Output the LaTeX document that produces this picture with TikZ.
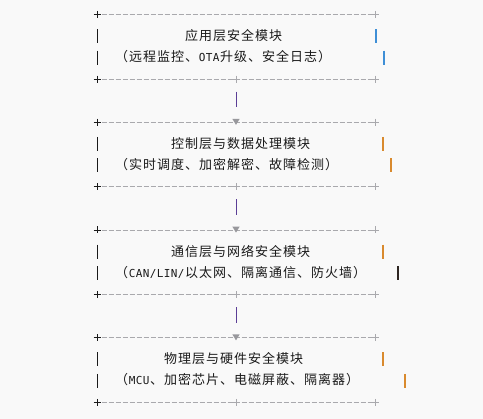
\documentclass[tikz,border=0pt]{standalone}
\usepackage{fontspec}
\setmainfont{Noto Sans CJK SC}
\newfontfamily\monofont{DejaVu Sans Mono}
\usetikzlibrary{calc}
\definecolor{bgc}{HTML}{F9F9F9}
\definecolor{dashc}{HTML}{A9A9AD}
\definecolor{txtc}{HTML}{1A1A1A}
\definecolor{connc}{HTML}{5B3E96}
\definecolor{barblue}{HTML}{3F8FD6}
\definecolor{barorange}{HTML}{D98A2E}
\definecolor{bardark}{HTML}{2E2622}
% fixed-pitch typesetting: CJK 14pt cells, Latin 7pt cells
\newcommand\cjrun[1]{\cjstep#1\relax}
\def\cjstep#1{\ifx#1\relax\else\makebox[14pt]{#1}\expandafter\cjstep\fi}
\newcommand\ltrun[1]{{\monofont\fontsize{11}{13}\selectfont\ltstep#1\relax}}
\def\ltstep#1{\ifx#1\relax\else\makebox[7pt]{#1}\expandafter\ltstep\fi}
\tikzset{
  boxarea/.style={minimum width=278pt,minimum height=64.65pt,inner sep=0pt,outer sep=0pt},
  dashline/.style={draw=dashc,line width=0.9pt,dash pattern=on 5pt off 2pt},
  txt/.style={anchor=base west,inner sep=0pt,text=txtc,font=\fontsize{13}{15}\selectfont},
  conn/.style={draw=connc,line width=1pt},
  lbar/.style={draw=txtc,line width=0.85pt},
  rbar/.style={line width=1.1pt},
  pluspen/.style={line width=0.9pt},
  tri/.style={fill=dashc!90!black}
}
\newcommand\plusat[2]{\draw[pluspen,#1] ($#2+(-3.5,0)$) -- ($#2+(3.5,0)$) ($#2+(0,-3.5)$) -- ($#2+(0,3.5)$);}
\begin{document}
\begin{tikzpicture}[x=1pt,y=-1pt]
\fill[bgc] (0,0) rectangle (483,419);
\useasboundingbox (0,0) rectangle (483,419);
% box areas
\node[boxarea] (b1) at (236,46.825) {};
\node[boxarea] (b2) at (236,154.575) {};
\node[boxarea] (b3) at (236,262.325) {};
\node[boxarea] (b4) at (236,370.075) {};
% borders
\foreach \b in {b1,b2,b3,b4}{
  \draw[dashline] ($(\b.north west)+(4.5,0)$) -- ($(\b.north east)+(-2.5,0)$);
  \draw[dashline] ($(\b.south west)+(4.5,0)$) -- ($(\b.south east)+(-2.5,0)$);
  \plusat{txtc}{(\b.north west)}
  \plusat{txtc}{(\b.south west)}
  \plusat{dashc}{(\b.north east)}
  \plusat{dashc}{(\b.south east)}
  \plusat{dashc}{(\b.south)}
  \draw[lbar] ($(\b.north west)+(0,14.55)$) -- ($(\b.north west)+(0,28.55)$);
  \draw[lbar] ($(\b.north west)+(0,36.1)$) -- ($(\b.north west)+(0,50.1)$);
}
% right bars
\draw[rbar,barblue] ($(b1.north east)+(1,14.55)$) -- ++(0,14);
\draw[rbar,barblue] ($(b1.north east)+(9,36.1)$) -- ++(0,14);
\draw[rbar,barorange] ($(b2.north east)+(8,14.55)$) -- ++(0,14);
\draw[rbar,barorange] ($(b2.north east)+(16,36.1)$) -- ++(0,14);
\draw[rbar,barorange] ($(b3.north east)+(8,14.55)$) -- ++(0,14);
\draw[rbar,bardark] ($(b3.north east)+(23,36.1)$) -- ++(0,14);
\draw[rbar,barorange] ($(b4.north east)+(8,14.55)$) -- ++(0,14);
\draw[rbar,barorange] ($(b4.north east)+(30,36.1)$) -- ++(0,14);
% arrow heads on the next box tops
\foreach \b in {b2,b3,b4}{
  \fill[tri] ($(\b.north)+(-3.6,-3.3)$) -- ($(\b.north)+(3.6,-3.3)$) -- ($(\b.north)+(0,2.6)$) -- cycle;
}
% connectors
\draw[conn] ($(b1.south)+(0,12.5)$) -- ($(b2.north)+(0,-15)$);
\draw[conn] ($(b2.south)+(0,12.5)$) -- ($(b3.north)+(0,-15)$);
\draw[conn] ($(b3.south)+(0,12.5)$) -- ($(b4.north)+(0,-15)$);
% texts
\node[txt] (t1) at (184.5,40.7) {\cjrun{应用层安全模块}};
\node[txt] (s1) at (114.5,61.6) {\cjrun{（远程监控、}\ltrun{OTA}\cjrun{升级、安全日志）}};
\node[txt] (t2) at (170.5,148.5) {\cjrun{控制层与数据处理模块}};
\node[txt] (s2) at (114.5,169.3) {\cjrun{（实时调度、加密解密、故障检测）}};
\node[txt] (t3) at (170.5,256.3) {\cjrun{通信层与网络安全模块}};
\node[txt] (s3) at (114.5,277.1) {\cjrun{（}\ltrun{CAN/LIN/}\cjrun{以太网、隔离通信、防火墙）}};
\node[txt] (t4) at (163.5,364.0) {\cjrun{物理层与硬件安全模块}};
\node[txt] (s4) at (114.5,384.9) {\cjrun{（}\ltrun{MCU}\cjrun{、加密芯片、电磁屏蔽、隔离器）}};
\end{tikzpicture}
\end{document}
